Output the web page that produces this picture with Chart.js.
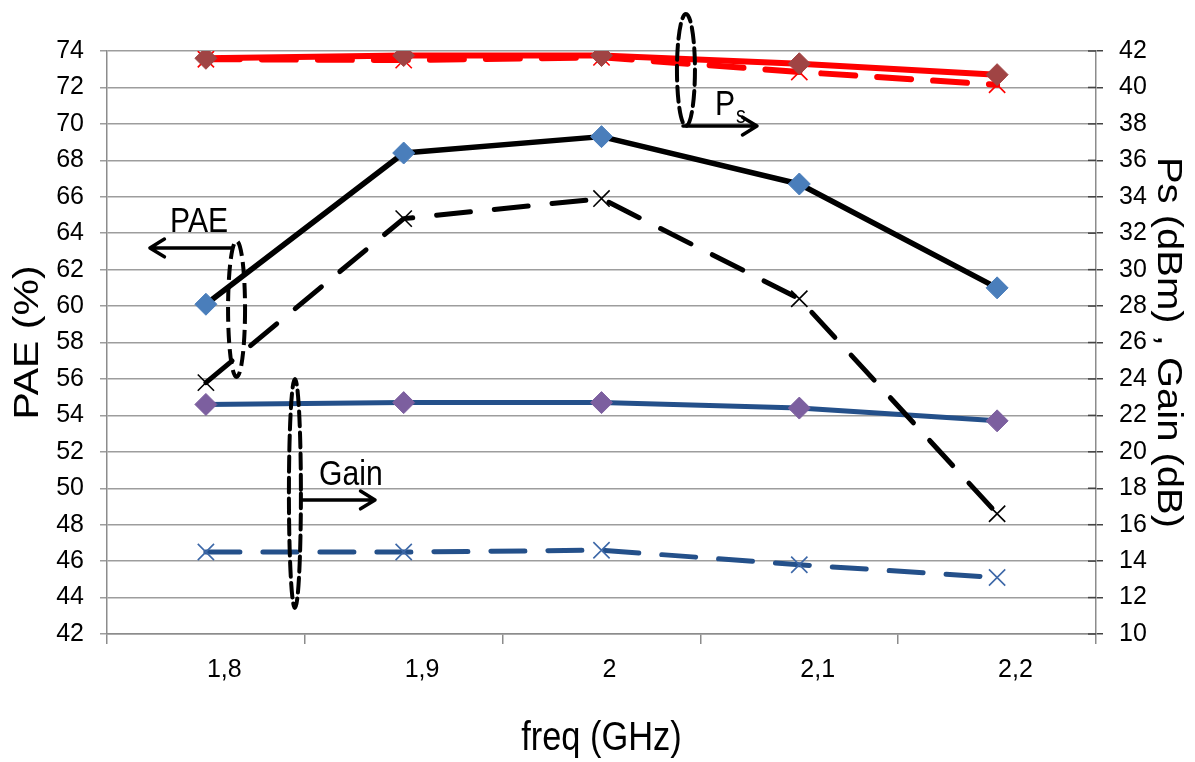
<!DOCTYPE html>
<html>
<head>
<meta charset="utf-8">
<script src="https://cdn.jsdelivr.net/npm/chart.js@4.4.1/dist/chart.umd.min.js"></script>
<style>
  html, body { margin: 0; padding: 0; background: #fff; }
  #wrap { width: 1195px; height: 762px; position: relative; }
</style>
</head>
<body>
<div id="wrap"><canvas id="chart"></canvas></div>
<script>
// frequency points (GHz)
const freq = ["1,8", "1,9", "2", "2,1", "2,2"];

// PAE (%) - left axis
const paeSolid  = [60.1, 68.4, 69.3, 66.7, 61.0];
const paeDashed = [55.8, 64.8, 65.9, 60.4, 48.6];

// Ps (dBm) and Gain (dB) - right axis
const psSolid    = [41.6, 41.75, 41.75, 41.3, 40.7];
const psDashed   = [41.55, 41.5, 41.65, 40.85, 40.15];
const gainSolid  = [22.6, 22.7, 22.7, 22.4, 21.7];
const gainDashed = [14.5, 14.5, 14.6, 13.8, 13.1];

// axis titles
const xTitle = "freq (GHz)";
const yTitle = "PAE (%)";
const y1Title = "Ps (dBm) , Gain (dB)";

// callouts: ellipse around a group of curves, arrow pointing to its axis
// x in category units, y in PAE units, radii in px
const callouts = [
  { text: "PAE", sub: "", ring: [0.155, 59.84, 8.5, 68], arrow: [0.132, -0.283, 63.19], label: [-0.181, 64.07] },
  { text: "Gain", sub: "", ring: [0.450, 49.71, 6, 114.5], arrow: [0.481, 0.855, 49.36], label: [0.572, 50.18] },
  { text: "P", sub: "s", ring: [2.427, 72.96, 9, 56], arrow: [2.412, 2.786, 69.88], label: [2.574, 70.49], subAt: [2.68, 70.05] }
];

const SQUEEZE = 0.86;
const TEXT_FONT = '"Liberation Sans", Arial, sans-serif';
const tickFont = { family: '"Liberation Sans Narrow", "Liberation Sans", sans-serif', size: 25 };

function series(label, data, axis, color, width, dash, marker, markerColor) {
  const diamond = marker === 'rectRot';
  return {
    label, data, yAxisID: axis,
    borderColor: color, backgroundColor: color,
    borderWidth: width, borderDash: dash,
    borderCapStyle: 'round', borderJoinStyle: 'round',
    tension: 0, fill: false,
    pointStyle: marker,
    pointRadius: diamond ? 11 : 11.5,
    pointBackgroundColor: markerColor,
    pointBorderColor: markerColor,
    pointBorderWidth: diamond ? 1 : 1.6
  };
}

function drawText(ctx, str, px, py, size, rot, align) {
  ctx.save();
  ctx.translate(px, py);
  ctx.rotate(rot);
  if (rot === 0) ctx.scale(SQUEEZE, 1); else ctx.scale(1, SQUEEZE);
  ctx.font = size + 'px ' + TEXT_FONT;
  ctx.fillStyle = '#000';
  ctx.textAlign = align;
  ctx.textBaseline = 'alphabetic';
  ctx.fillText(str, 0, 0);
  ctx.restore();
}

function drawArrow(ctx, x0, x1, py) {
  const dir = Math.sign(x1 - x0);
  const len = 17, ang = 0.55;
  ctx.beginPath();
  ctx.moveTo(x0, py);
  ctx.lineTo(x1, py);
  ctx.moveTo(x1 - dir * len * Math.cos(ang), py - len * Math.sin(ang));
  ctx.lineTo(x1, py);
  ctx.lineTo(x1 - dir * len * Math.cos(ang), py + len * Math.sin(ang));
  ctx.stroke();
}

const decor = {
  id: 'decor',
  afterDraw(chart) {
    const { ctx, chartArea, scales: { x, y, y1 } } = chart;
    const X = v => x.getPixelForValue(v);
    const Y = v => y.getPixelForValue(v);
    ctx.save();

    // inner half of the cross tick marks on the right axis
    ctx.strokeStyle = '#444';
    ctx.lineWidth = 1.5;
    y1.ticks.forEach(t => {
      const py = y1.getPixelForValue(t.value);
      ctx.beginPath();
      ctx.moveTo(chartArea.right - 8, py);
      ctx.lineTo(chartArea.right, py);
      ctx.stroke();
    });

    // callouts
    callouts.forEach(c => {
      ctx.strokeStyle = '#000';
      ctx.lineWidth = 4;
      ctx.setLineDash([15, 6]);
      ctx.beginPath();
      ctx.ellipse(X(c.ring[0]), Y(c.ring[1]), c.ring[2], c.ring[3], 0, 0, Math.PI * 2);
      ctx.stroke();
      ctx.setLineDash([]);
      ctx.lineWidth = 3.5;
      ctx.lineCap = 'round';
      ctx.lineJoin = 'round';
      drawArrow(ctx, X(c.arrow[0]), X(c.arrow[1]), Y(c.arrow[2]));
      drawText(ctx, c.text, X(c.label[0]), Y(c.label[1]), 35, 0, 'left');
      if (c.sub) drawText(ctx, c.sub, X(c.subAt[0]), Y(c.subAt[1]), 23, 0, 'left');
    });

    // axis titles
    const midY = (chartArea.top + chartArea.bottom) / 2;
    drawText(ctx, yTitle, 38, midY, 41, -Math.PI / 2, 'center');
    drawText(ctx, y1Title, 1158, midY, 40, Math.PI / 2, 'center');
    drawText(ctx, xTitle, (chartArea.left + chartArea.right) / 2, 750, 40, 0, 'center');

    ctx.restore();
  }
};

const gridGray = '#9d9d9d';

new Chart(document.getElementById('chart'), {
  type: 'line',
  data: {
    labels: freq,
    datasets: [
      series('Ps', psSolid, 'y1', '#ff0000', 6, [], 'rectRot', '#a04444'),
      series('Ps (dashed)', psDashed, 'y1', '#ff0000', 6, [34, 22], 'crossRot', '#ff0000'),
      series('PAE', paeSolid, 'y', '#000000', 5.5, [], 'rectRot', '#4a7ebb'),
      series('PAE (dashed)', paeDashed, 'y', '#000000', 5, [34, 24], 'crossRot', '#000000'),
      series('Gain', gainSolid, 'y1', '#24508a', 5, [], 'rectRot', '#7c5f9f'),
      series('Gain (dashed)', gainDashed, 'y1', '#24508a', 5, [34, 23], 'crossRot', '#3d68a8')
    ]
  },
  options: {
    responsive: true,
    maintainAspectRatio: false,
    animation: false,
    layout: { padding: { top: 51, left: 0, right: 0, bottom: 0 } },
    plugins: {
      legend: { display: false },
      tooltip: { enabled: false }
    },
    scales: {
      x: {
        type: 'category',
        offset: true,
        grid: { offset: true, drawOnChartArea: false, tickLength: 10, color: '#8c8c8c', lineWidth: 1.5 },
        border: { color: '#8c8c8c', width: 1.5 },
        ticks: { align: 'start', labelOffset: 1, padding: 11, font: tickFont, color: '#000', maxRotation: 0, autoSkip: false },
        afterFit(s) { s.height = 128; }
      },
      y: {
        position: 'left',
        min: 42, max: 74,
        ticks: { stepSize: 2, padding: 16, font: tickFont, color: '#000' },
        grid: { color: gridGray, lineWidth: 1.5, tickLength: 7 },
        border: { color: '#8c8c8c', width: 1.5 },
        afterFit(s) { s.width = 107; }
      },
      y1: {
        position: 'right',
        min: 10, max: 42,
        ticks: { stepSize: 2, padding: 16, font: tickFont, color: '#000' },
        grid: { drawOnChartArea: false, color: '#444', lineWidth: 1.5, tickLength: 7 },
        border: { color: '#8c8c8c', width: 1.5 },
        afterFit(s) { s.width = 99; }
      }
    }
  },
  plugins: [decor]
});
</script>
</body>
</html>
